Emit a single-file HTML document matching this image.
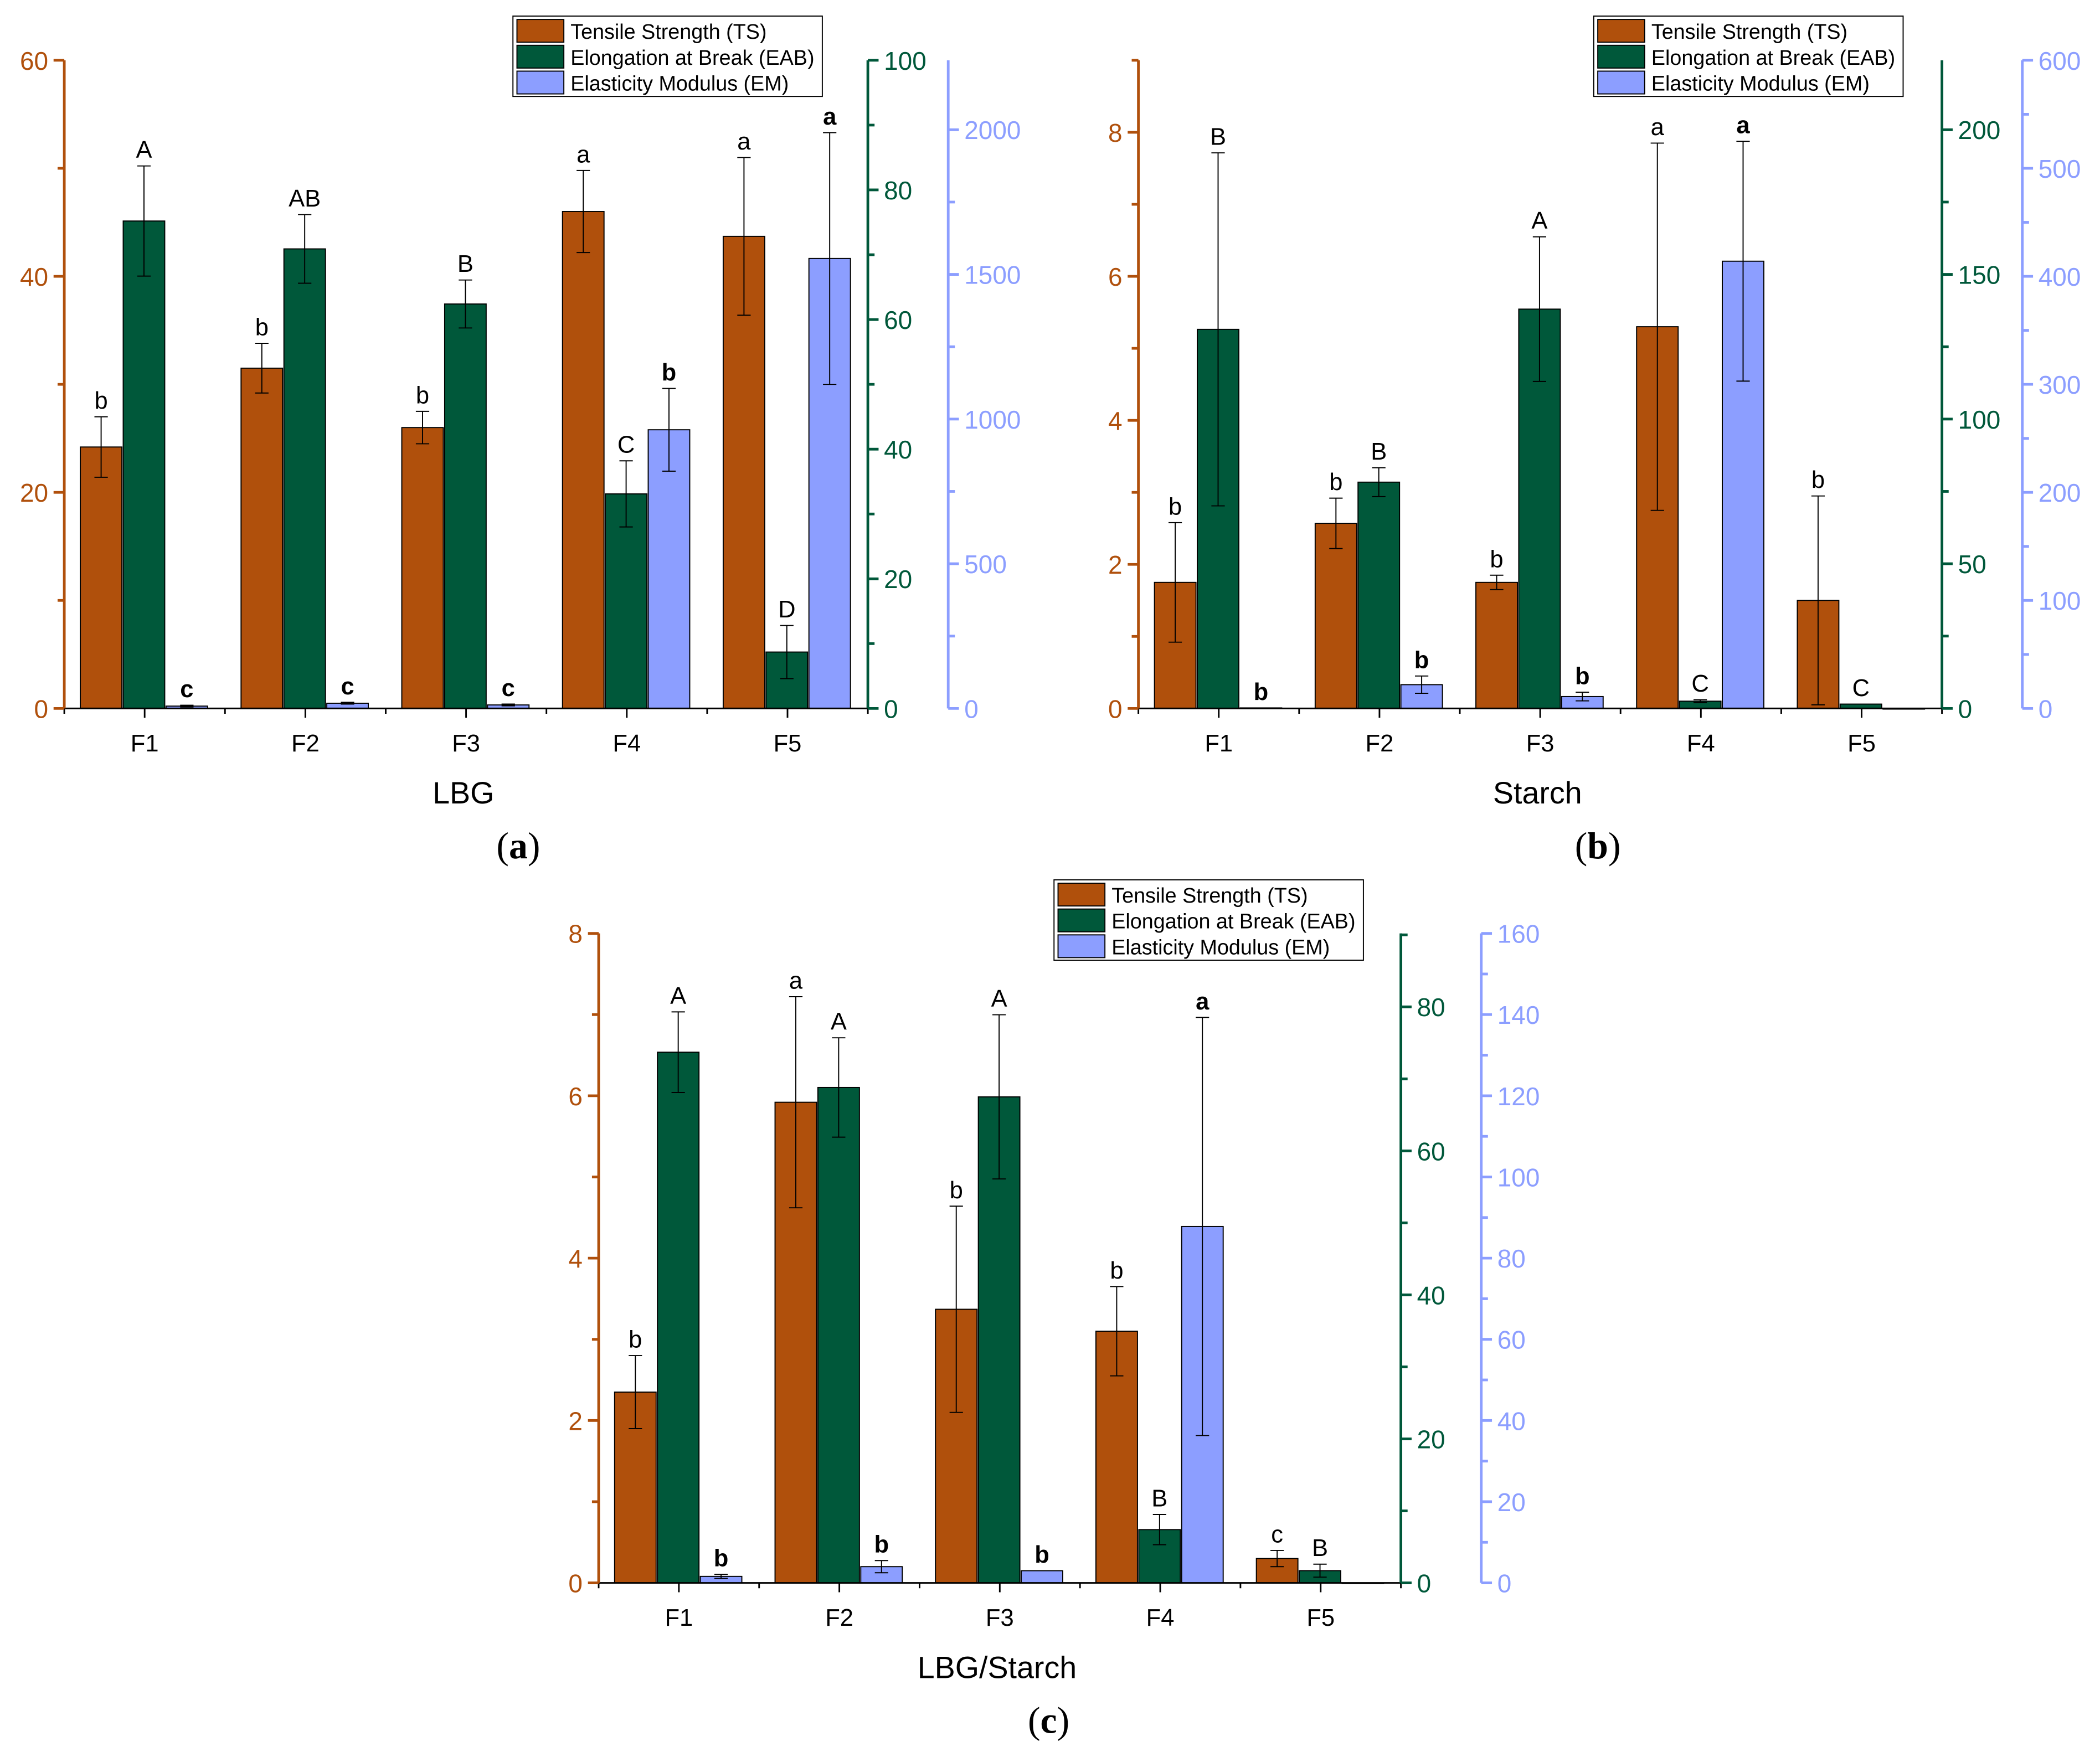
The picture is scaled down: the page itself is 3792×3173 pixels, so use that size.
<!DOCTYPE html>
<html><head><meta charset="utf-8"><style>html,body{margin:0;padding:0;background:#fff}svg{display:block}</style></head>
<body>
<svg id="fig" xmlns="http://www.w3.org/2000/svg" width="3792" height="3173" viewBox="0 0 1568 1312" font-family="Liberation Sans, sans-serif"></svg>
<script>
const categories = ["F1","F2","F3","F4","F5"];
// Panel a (LBG)
const aTS = [24.2, 31.5, 26.0, 46.0, 43.7];
const aTSerr = [2.8, 2.3, 1.5, 3.8, 7.3];
const aEAB = [75.2, 70.9, 62.4, 33.1, 8.7];
const aEABerr = [8.5, 5.3, 3.7, 5.1, 4.1];
const aEM = [8, 18, 12, 963, 1555];
const aEMerr = [3, 3, 3, 143, 435];
const aTSlet = ["b","b","b","a","a"];
const aEABlet = ["A","AB","B","C","D"];
const aEMlet = ["c","c","c","b","a"];
const aTSticks = [0,20,40,60];
const aEABticks = [0,20,40,60,80,100];
const aEMticks = [0,500,1000,1500,2000];
// Panel b (Starch)
const bTS = [1.75, 2.57, 1.75, 5.3, 1.5];
const bTSerr = [0.83, 0.35, 0.1, 2.55, 1.45];
const bEAB = [131, 78.2, 138, 2.5, 1.5];
const bEABerr = [61, 5, 25, 0.5, 0];
const bEM = [0.5, 22, 11, 414, 0];
const bEMerr = [0, 8, 4, 111, 0];
const bTSlet = ["b","b","b","a","b"];
const bEABlet = ["B","B","A","C","C"];
const bEMlet = ["b","b","b","a",""];
const bTSticks = [0,2,4,6,8];
const bEABticks = [0,50,100,150,200];
const bEMticks = [0,100,200,300,400,500,600];
// Panel c (LBG/Starch)
const cTS = [2.35, 5.92, 3.37, 3.1, 0.3];
const cTSerr = [0.45, 1.3, 1.27, 0.55, 0.1];
const cEAB = [73.7, 68.8, 67.5, 7.4, 1.7];
const cEABerr = [5.6, 6.9, 11.4, 2.1, 0.9];
const cEM = [1.6, 4, 3, 87.8, 0];
const cEMerr = [0.5, 1.5, 0, 51.5, 0];
const cTSlet = ["b","a","b","b","c"];
const cEABlet = ["A","A","A","B","B"];
const cEMlet = ["b","b","b","a",""];
const cTSticks = [0,2,4,6,8];
const cEABticks = [0,20,40,60,80];
const cEMticks = [0,20,40,60,80,100,120,140,160];

const NS="http://www.w3.org/2000/svg";
const svg=document.getElementById('fig');
function mk(tag,attrs,parent,text){const e=document.createElementNS(NS,tag);for(const k in attrs)e.setAttribute(k,attrs[k]);if(text!==undefined)e.textContent=text;(parent||svg).appendChild(e);return e;}
const COL={ts:"#b0500c",eab:"#00583a",em:"#8c9eff"};

function panel(p){
  const g=mk('g',{});
  
  
  const H=p.y0-p.y1;
  const yTS=v=>p.y0-v/p.tsMax*H, yEAB=v=>p.y0-v/p.eabMax*H, yEM=v=>p.y0-v/p.emMax*H;
  const step=(p.x1-p.x0)/5;
  const cx=i=>p.x0+step*(i+0.5);
  const series=[[p.ts,p.tsErr,p.tsLet,yTS,COL.ts,-48,'ts'],[p.eab,p.eabErr,p.eabLet,yEAB,COL.eab,-16,'eab'],[p.em,p.emErr,p.emLet,yEM,COL.em,16,'em']];
  series.forEach(s=>{
    const [vals,errs,lets,sc,col,off,key]=s;
    vals.forEach((v,i)=>{
      const x=cx(i)+off, top=sc(v);
      const r=mk('rect',{x:x,y:top,width:31,height:Math.max(p.y0-top,0.5),fill:col,stroke:"#000","stroke-width":0.8},g);
      
      
      const xc=x+15.5, et=sc(v+errs[i]), eb=sc(Math.max(v-errs[i],0));
      if(errs[i]>0){
        const e=mk('path',{d:`M${xc},${et}V${eb}M${xc-5},${et}H${xc+5}M${xc-5},${eb}H${xc+5}`,stroke:"#000","stroke-width":0.8,fill:"none"},g);
        
        
      }
      if(lets[i]){
        const t=mk('text',{x:xc,y:Math.min(et,top)-6,"text-anchor":"middle","font-size":18,"font-weight":key==='em'?'bold':'normal',fill:"#000"},g,lets[i]);
        
        
      }
    });
  });
  const xa=mk('path',{d:`M${p.x0},${p.y0}H${p.x1}`,stroke:"#000","stroke-width":1.2},g);
  
  
  categories.forEach((c,i)=>{
    mk('path',{d:`M${cx(i)},${p.y0}v7M${p.x0+step*i},${p.y0}v4`,stroke:"#000","stroke-width":1.2},g);
    const t=mk('text',{x:cx(i),y:p.y0+32,"text-anchor":"middle","font-size":18},g,c);
    
    
  });
  mk('path',{d:`M${p.x1},${p.y0}v4`,stroke:"#000","stroke-width":1.2},g);
  function vaxis(x,ticks,max,col,dir,name){
    const a=mk('path',{d:`M${x},${p.y0}V${p.y1}`,stroke:col,"stroke-width":2},g);
    
    
    const tstep=ticks[1]-ticks[0];
    for(let v=0;v<=max+1e-9;v+=tstep/2){
      const y=p.y0-v/max*H;
      const major=Math.abs(v/tstep-Math.round(v/tstep))<1e-6;
      mk('path',{d:`M${x},${y}h${dir*(major?8:5)}`,stroke:col,"stroke-width":2},g);
    }
    ticks.forEach(v=>{
      const y=p.y0-v/max*H;
      const t=mk('text',{x:x+dir*12,y:y+7,"text-anchor":dir<0?"end":"start","font-size":19,fill:col},g,String(v));
      
      
    });
  }
  vaxis(p.x0,p.tsTicks,p.tsMax,COL.ts,-1,'ts-axis');
  vaxis(p.x1,p.eabTicks,p.eabMax,COL.eab,1,'eab-axis');
  vaxis(p.x1+60,p.emTicks,p.emMax,COL.em,1,'em-axis');
  const tt=mk('text',{x:(p.x0+p.x1)/2-2,y:p.y0+71,"text-anchor":"middle","font-size":23},g,p.title);
  
  
  const lab=mk('text',{x:p.labX,y:p.y0+112,"text-anchor":"middle","font-size":28,"font-family":"Liberation Serif, serif"},g);
  
  
  mk('tspan',{},lab,'(');mk('tspan',{"font-weight":"bold"},lab,p.lab);mk('tspan',{},lab,')');
  const lg=mk('g',{},g);
  
  
  mk('rect',{x:p.legX,y:p.legY,width:231,height:60,fill:"#fff",stroke:"#000","stroke-width":0.8},lg);
  [["Tensile Strength (TS)",COL.ts],["Elongation at Break (EAB)",COL.eab],["Elasticity Modulus (EM)",COL.em]].forEach((l,i)=>{
    const e=mk('g',{},lg);
    
    
    mk('rect',{x:p.legX+3,y:p.legY+2.5+i*19.3,width:35,height:17,fill:l[1],stroke:"#000","stroke-width":0.8},e);
    mk('text',{x:p.legX+43,y:p.legY+17+i*19.3,"font-size":15.6},e,l[0]);
  });
}
panel({name:'panel-a-lbg',x0:48,x1:648,y0:529,y1:45,tsMax:60,eabMax:100,emMax:2240,
  ts:aTS,tsErr:aTSerr,eab:aEAB,eabErr:aEABerr,em:aEM,emErr:aEMerr,tsLet:aTSlet,eabLet:aEABlet,emLet:aEMlet,
  tsTicks:aTSticks,eabTicks:aEABticks,emTicks:aEMticks,title:'LBG',lab:'a',labX:387,legX:383,legY:12});
panel({name:'panel-b-starch',x0:850,x1:1450,y0:529,y1:45,tsMax:9,eabMax:224,emMax:600,
  ts:bTS,tsErr:bTSerr,eab:bEAB,eabErr:bEABerr,em:bEM,emErr:bEMerr,tsLet:bTSlet,eabLet:bEABlet,emLet:bEMlet,
  tsTicks:bTSticks,eabTicks:bEABticks,emTicks:bEMticks,title:'Starch',lab:'b',labX:1193,legX:1190,legY:12});
panel({name:'panel-c-lbg-starch',x0:447,x1:1046,y0:1182,y1:697,tsMax:8,eabMax:90.2,emMax:160,
  ts:cTS,tsErr:cTSerr,eab:cEAB,eabErr:cEABerr,em:cEM,emErr:cEMerr,tsLet:cTSlet,eabLet:cEABlet,emLet:cEMlet,
  tsTicks:cTSticks,eabTicks:cEABticks,emTicks:cEMticks,title:'LBG/Starch',lab:'c',labX:783,legX:787,legY:657});
</script>
</body></html>
